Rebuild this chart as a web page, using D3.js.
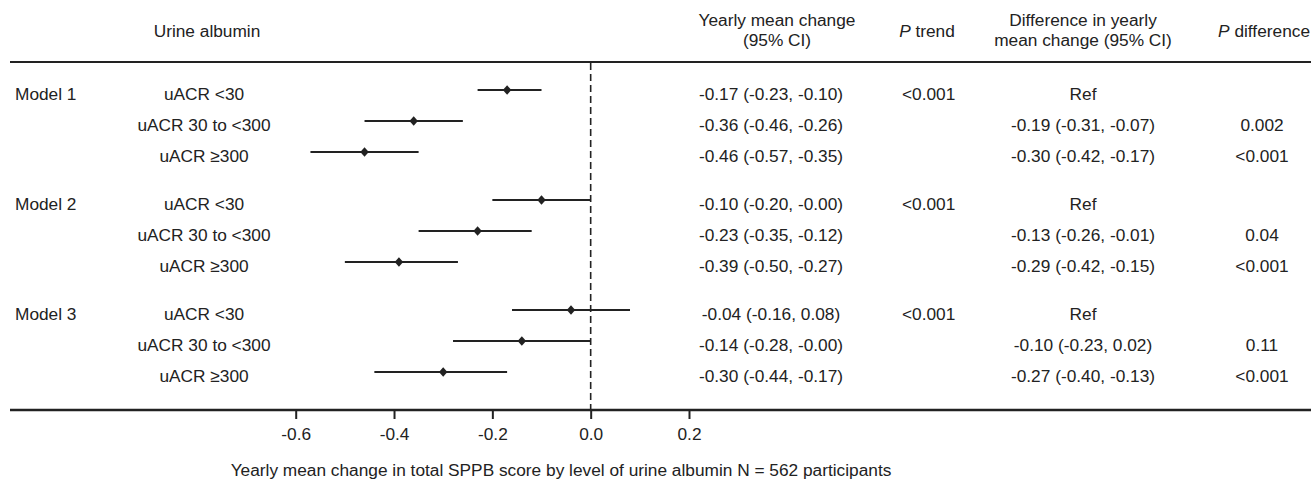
<!DOCTYPE html>
<html>
<head>
<meta charset="utf-8">
<script src="https://cdn.jsdelivr.net/npm/d3@7"></script>
<style>
  body { margin: 0; background: #fff; }
  svg { display: block; font-family: "Liberation Sans", Arial, sans-serif; }
</style>
</head>
<body>
<div id="chart"></div>
<script>
// data
const models = ["Model 1", "Model 2", "Model 3"];
const groups = ["uACR <30", "uACR 30 to <300", "uACR \u2265300"];
const est = [-0.17, -0.36, -0.46, -0.10, -0.23, -0.39, -0.04, -0.14, -0.30];
const lower = [-0.23, -0.46, -0.57, -0.20, -0.35, -0.50, -0.16, -0.28, -0.44];
const upper = [-0.10, -0.26, -0.35, -0.00, -0.12, -0.27, 0.08, -0.00, -0.17];
const pTrend = ["<0.001", "<0.001", "<0.001"];
const diffText = ["Ref", "-0.19 (-0.31, -0.07)", "-0.30 (-0.42, -0.17)",
                  "Ref", "-0.13 (-0.26, -0.01)", "-0.29 (-0.42, -0.15)",
                  "Ref", "-0.10 (-0.23, 0.02)", "-0.27 (-0.40, -0.13)"];
const pDiff = ["", "0.002", "<0.001", "", "0.04", "<0.001", "", "0.11", "<0.001"];
const xTicks = [-0.6, -0.4, -0.2, 0.0, 0.2];

const width = 1311;
const height = 481;
const ink = "#222";
const fontSize = "17.3px";

// plain hyphen, and keep the "-0.00" look of the source table
const f2 = v => (Object.is(v, -0) ? "-" : "") + v.toFixed(2);

const rows = est.map((e, i) => ({
  i,
  g: Math.floor(i / 3),
  est: e,
  lo: lower[i],
  hi: upper[i],
  label: groups[i % 3],
  ci: `${f2(e)} (${f2(lower[i])}, ${f2(upper[i])})`,
  diff: diffText[i],
  pd: pDiff[i]
}));

const x = d3.scaleLinear().domain([-0.6, 0.2]).range([295.7, 689]);
// row slot -> pixel, groups separated by an extra gap
const y = d3.scaleLinear().domain([0, 1]).range([90, 121]);
const gap = 17 / 31;
const slot = d => d.i + d.g * gap;

const svg = d3.select("#chart").append("svg")
  .attr("width", width)
  .attr("height", height)
  .style("font-size", fontSize)
  .attr("fill", ink);

// header
const head = svg.append("g").attr("text-anchor", "middle");
head.append("text").attr("x", 207).attr("y", 37).text("Urine albumin");
head.append("text").attr("x", 777).attr("y", 26).text("Yearly mean change");
head.append("text").attr("x", 777).attr("y", 46).text("(95% CI)");
const pt = head.append("text").attr("x", 927).attr("y", 37);
pt.append("tspan").attr("font-style", "italic").text("P");
pt.append("tspan").text(" trend");
head.append("text").attr("x", 1083).attr("y", 26).text("Difference in yearly");
head.append("text").attr("x", 1083).attr("y", 46).text("mean change (95% CI)");
const pd = head.append("text").attr("x", 1310).attr("y", 37).attr("text-anchor", "end");
pd.append("tspan").attr("font-style", "italic").text("P");
pd.append("tspan").text(" difference");

// rules
svg.append("line")
  .attr("x1", 10).attr("x2", width).attr("y1", 62).attr("y2", 62)
  .attr("stroke", ink).attr("stroke-width", 2);
svg.append("line")
  .attr("x1", 10).attr("x2", width).attr("y1", 410).attr("y2", 410)
  .attr("stroke", ink).attr("stroke-width", 2.5);

// reference line at zero
svg.append("line")
  .attr("x1", x(0)).attr("x2", x(0)).attr("y1", 63).attr("y2", 410)
  .attr("stroke", ink).attr("stroke-width", 1.6)
  .attr("stroke-dasharray", "7,4");

// model labels
svg.append("g")
  .selectAll("text")
  .data(models)
  .join("text")
    .attr("x", 15)
    .attr("y", (d, g) => y(g * 3 + g * gap) + 9.5)
    .text(d => d);

const rowG = svg.append("g")
  .selectAll("g")
  .data(rows)
  .join("g")
    .attr("transform", d => `translate(0,${y(slot(d))})`);

rowG.append("text")
  .attr("x", 204).attr("y", 9.5)
  .attr("text-anchor", "middle")
  .text(d => d.label);

rowG.append("line")
  .attr("x1", d => x(d.lo)).attr("x2", d => x(d.hi))
  .attr("stroke", ink).attr("stroke-width", 2);

rowG.append("path")
  .attr("transform", d => `translate(${x(d.est)},0) scale(1,1.1)`)
  .attr("d", d3.symbol(d3.symbolDiamond2, 46));

rowG.append("text")
  .attr("x", 771).attr("y", 9.5)
  .attr("text-anchor", "middle")
  .text(d => d.ci);

rowG.filter(d => d.i % 3 === 0).append("text")
  .attr("x", 902).attr("y", 9.5)
  .text(d => pTrend[d.g]);

rowG.append("text")
  .attr("x", 1083).attr("y", 9.5)
  .attr("text-anchor", "middle")
  .text(d => d.diff);

rowG.append("text")
  .attr("x", 1262).attr("y", 9.5)
  .attr("text-anchor", "middle")
  .text(d => d.pd);

// x axis
const axis = svg.append("g")
  .attr("transform", "translate(0,410)")
  .call(d3.axisBottom(x).tickValues(xTicks).tickFormat(d => d.toFixed(1)).tickSize(9).tickPadding(9));
axis.select(".domain").remove();
axis.selectAll(".tick line").attr("stroke", ink).attr("stroke-width", 2);
axis.selectAll(".tick text")
  .attr("fill", ink)
  .style("font-size", fontSize)
  .style("font-family", "\"Liberation Sans\", Arial, sans-serif");

svg.append("text")
  .attr("x", 561).attr("y", 476)
  .attr("text-anchor", "middle")
  .text("Yearly mean change in total SPPB score by level of urine albumin N = 562 participants");
</script>
</body>
</html>
